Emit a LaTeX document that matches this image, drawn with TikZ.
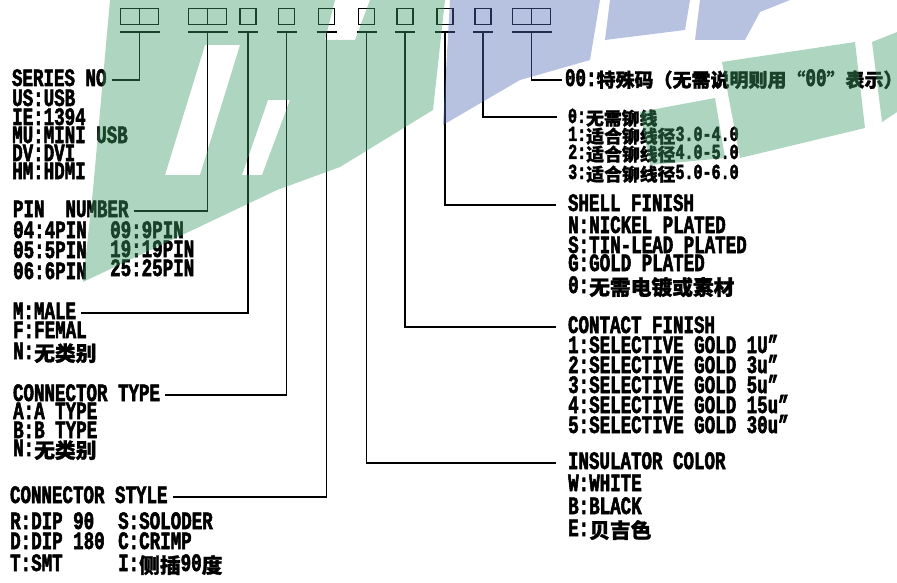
\documentclass[tikz,border=0pt]{standalone}
\usepackage{fontspec}
\setmainfont{Liberation Mono}[FakeStretch=0.7, BoldFeatures={FakeBold=2.2}]
\newfontfamily\zhfont{Noto Sans CJK SC}[UprightFont=* Bold, Scale=0.83, FakeBold=1.3]
\newfontfamily\zhsfont{Noto Sans CJK SC}[UprightFont=* Bold, Scale=0.76, FakeBold=1.3]
\newcommand\zh[1]{\raisebox{-2pt}{\zhfont #1}}
\newcommand\zhs[1]{\raisebox{-1pt}{\zhsfont #1}}
\usetikzlibrary{positioning}
\definecolor{wmgreen}{RGB}{62,155,102}
\definecolor{wmblue}{RGB}{84,107,182}
\tikzset{
  cell/.style = {draw, line width=1.3pt, minimum width=16pt, minimum height=16pt, inner sep=0pt},
  lead/.style = {line width=1.3pt},
  item/.style = {anchor=west, inner sep=0pt, text height=13pt, text depth=1pt,
                 font=\fontsize{25}{25}\selectfont\bfseries},
  small/.style = {item, font=\fontsize{21.5}{21.5}\selectfont\bfseries},
  ltitle/.style = {item, outer sep=5pt},
  rtitle/.style = {item, outer sep=12pt},
  wmark/.style = {fill opacity=0.42, even odd rule}
}

\begin{document}
\begin{tikzpicture}[x=1pt, y=-1pt]
\useasboundingbox (0,0) rectangle (897,583);

% code boxes
\foreach \cx/\nm in {139.5/ser, 207.5/pin, 531.5/spc} {
  \node[cell, minimum width=19pt] (\nm-a) at (\cx-9.5,16.5) {};
  \node[cell, minimum width=19pt] (\nm-b) at (\cx+9.5,16.5) {};
  \draw[lead] (\cx-20,32) -- (\cx+20,32);
  \coordinate (\nm) at (\cx,32);
}
\foreach \cx/\nm in {248/gen, 286.5/typ, 326.5/sty, 366.5/ins, 405/con, 445/shl, 483/riv} {
  \node[cell] (\nm-a) at (\cx,16.5) {};
  \draw[lead] (\cx-10,32) -- (\cx+10,32);
  \coordinate (\nm) at (\cx,32);
}

% left side
\node[ltitle] (serT) at (7,80) {SERIES NO};
\foreach \yy/\txt in {100/US:USB, 119/IE:1394, 137/MU:MINI USB, 155/DV:DVI, 173/HM:HDMI}
  \node[item] (ser-\yy) at (12,\yy) {\txt};

\node[ltitle] (pinT) at (8,211) {PIN~~NUMBER};
\foreach \yy/\txt in {232/04:4PIN, 252/05:5PIN, 273/06:6PIN}
  \node[item] (pin-\yy) at (13,\yy) {\txt};
\foreach \yy/\txt in {232/09:9PIN, 251/19:19PIN, 270/25:25PIN}
  \node[item] (pinb-\yy) at (110,\yy) {\txt};

\node[ltitle] (genT) at (8,313) {M:MALE};
\foreach \yy/\txt in {332/F:FEMAL, 353/N:\zh{无类别}}
  \node[item] (gen-\yy) at (13,\yy) {\txt};

\node[ltitle] (typT) at (8,395) {CONNECTOR TYPE};
\foreach \yy/\txt in {413/A:A TYPE, 432/B:B TYPE, 450/N:\zh{无类别}}
  \node[item] (typ-\yy) at (13,\yy) {\txt};

\node[ltitle] (styT) at (5,497) {CONNECTOR STYLE};
\foreach \yy/\txt in {523/R:DIP 90, 543/D:DIP 180, 565/T:SMT}
  \node[item] (sty-\yy) at (10,\yy) {\txt};
\foreach \yy/\txt in {523/S:SOLODER, 543/C:CRIMP, 565/I:\zh{侧插}90\zh{度}}
  \node[item] (styb-\yy) at (118,\yy) {\txt};

% right side
\node[item, outer sep=3pt] (spcT) at (562,80)
  {00:\zhs{特殊码（无需说明则用“}00\zhs{”表示）}};

\node[small, outer sep=11pt] (rivT) at (557,117) {0:\zh{无需铆线}};
\foreach \yy/\txt in {135/1:\zh{适合铆线径}3.0-4.0, 153/2:\zh{适合铆线径}4.0-5.0, 173/3:\zh{适合铆线径}5.0-6.0}
  \node[small] (riv-\yy) at (568,\yy) {\txt};

\node[rtitle] (shlT) at (556,205) {SHELL FINISH};
\foreach \yy/\txt in {227/N:NICKEL PLATED, 247/S:TIN-LEAD PLATED, 265/G:GOLD PLATED, 287/0:\zh{无需电镀或素材}}
  \node[item] (shl-\yy) at (568,\yy) {\txt};

\node[rtitle] (conT) at (556,327) {CONTACT FINISH};
\foreach \yy/\txt in {347/1:SELECTIVE GOLD 1U”, 367/2:SELECTIVE GOLD 3u”, 387/3:SELECTIVE GOLD 5u”,
                      407/4:SELECTIVE GOLD 15u”, 427/5:SELECTIVE GOLD 30u”}
  \node[item] (con-\yy) at (568,\yy) {\txt};

\node[rtitle] (insT) at (556,463) {INSULATOR COLOR};
\foreach \yy/\txt in {485/W:WHITE, 508/B:BLACK, 530/E:\zh{贝吉色}}
  \node[item] (ins-\yy) at (568,\yy) {\txt};

% leader lines
\foreach \a/\b in {ser/serT, pin/pinT, gen/genT, typ/typT, sty/styT,
                   ins/insT, con/conT, shl/shlT, riv/rivT, spc/spcT}
  \draw[lead] (\a) |- (\b);

% watermark
\fill[wmgreen, wmark] (110,0) -- (445,0) -- (433,110) -- (340,167) -- (277,190) -- (83,282) -- (93,190) -- cycle
  (205,45) -- (240,45) -- (200,175) -- (165,175) -- cycle
  (268,100) -- (290,100) -- (262,175) -- (242,175) -- cycle
  (335,0) -- (370,0) -- (355,40) -- (325,40) -- cycle;
\fill[wmblue, wmark] (450,0) -- (600,0) -- (590,60) -- (520,80) -- (443,125) -- cycle;
\fill[wmblue, wmark] (610,0) -- (690,0) -- (685,30) -- (605,40) -- cycle;
\fill[wmblue, wmark] (700,0) -- (790,0) -- (760,12) -- (745,40) -- (695,40) -- cycle;
\fill[wmgreen, wmark] (640,112) -- (715,98) -- (725,158) -- (650,165) -- cycle;
\fill[wmgreen, wmark] (722,62) -- (855,42) -- (865,128) -- (740,158) -- cycle;
\fill[wmgreen, wmark] (872,42) -- (897,32) -- (897,112) -- (882,122) -- cycle;
\end{tikzpicture}
\end{document}
